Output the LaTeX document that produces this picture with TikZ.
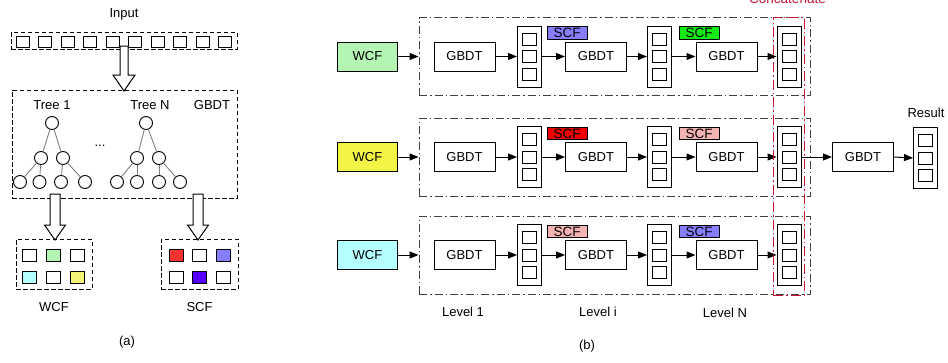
\documentclass[tikz,border=0pt]{standalone}
\usepackage{fontspec}
\setmainfont{Liberation Sans}
\usetikzlibrary{arrows.meta}
\definecolor{wgreen}{RGB}{180,245,180}
\definecolor{wyellow}{RGB}{242,245,70}
\definecolor{ayellow}{RGB}{242,245,120}
\definecolor{wcyan}{RGB}{180,255,255}
\definecolor{scfred}{RGB}{240,0,0}
\definecolor{ared}{RGB}{250,50,50}
\definecolor{scfpurple}{RGB}{135,125,255}
\definecolor{scfviolet}{RGB}{85,0,255}
\definecolor{scfgreen}{RGB}{20,235,20}
\definecolor{scfpink}{RGB}{245,180,180}
\definecolor{crim}{RGB}{200,20,50}
\tikzset{
  every node/.style={font=\fontsize{13}{15}\selectfont},
  lbl/.style={inner sep=0pt},
  dbox/.style={draw, dash pattern=on 4.5pt off 2.5pt, line width=1pt, inner sep=0pt},
  ddbox/.style={draw=black!75, dash pattern=on 8pt off 3pt on 1.5pt off 3pt, line width=1pt, inner sep=0pt, minimum width=391pt, minimum height=78pt},
  redbox/.style={draw=crim, dash pattern=on 10pt off 3pt on 1.5pt off 3pt, line width=1pt, inner sep=0pt, minimum width=31pt, minimum height=278pt},
  acell/.style={draw, line width=1pt, minimum width=13pt, minimum height=11pt, inner sep=0pt},
  bcell/.style={draw, line width=1pt, minimum width=14pt, minimum height=12pt, inner sep=0pt},
  gbdt/.style={draw, line width=1pt, minimum width=61pt, minimum height=29pt, inner sep=0pt, fill=white},
  vecbox/.style={draw, line width=1pt, minimum width=24pt, minimum height=61pt, inner sep=0pt},
  cell/.style={draw, line width=0.9pt, minimum width=14pt, minimum height=12pt, inner sep=0pt},
  scf/.style={draw, line width=0.8pt, minimum width=40pt, minimum height=12.5pt, inner sep=0pt, text depth=0pt, font=\fontsize{13.5}{13.5}\selectfont},
  wcf/.style={draw, line width=1pt, minimum width=60pt, minimum height=29pt, inner sep=0pt},
  arr/.style={-{Triangle[length=9pt,width=7pt]}, line width=1pt},
  tnode/.style={circle, draw, line width=0.9pt, minimum size=13pt, inner sep=0pt},
  tedge/.style={draw=gray, line width=0.9pt},
  hollow/.style={draw, line width=1pt, fill=white},
}
\begin{document}
\begin{tikzpicture}[x=1pt,y=-1pt]
\useasboundingbox (0,0) rectangle (948,362);
% ---------------- panel (a) ----------------
\node[lbl] (inlbl) at (124,14) {Input};
\node[dbox, minimum width=226pt, minimum height=17pt] (inbox) at (124,40.5) {};
\foreach \i in {0,...,9} \node[acell] (in\i) at (22.5+22.5*\i,41.5) {};
\node[dbox, minimum width=225pt, minimum height=108pt] (gbox) at (124.5,144) {};
\draw[hollow] (120,46) -- (120,75) -- (113,75) -- (124,91) -- (135,75) -- (128,75) -- (128,46) -- cycle;
\node[lbl] (t1lbl) at (52,105) {Tree 1};
\node[lbl] (tnlbl) at (150,105) {Tree N};
\node[lbl] (gblbl) at (212,105) {GBDT};
\node[lbl] (dots) at (100,146) {...};
% tree 1
\node[tnode] (t1r) at (52,123) {};
\node[tnode] (t1a) at (41,158) {};
\node[tnode] (t1b) at (63,158) {};
\node[tnode] (t1l1) at (20,182) {};
\node[tnode] (t1l2) at (39.5,182) {};
\node[tnode] (t1l3) at (61,182) {};
\node[tnode] (t1l4) at (85,182) {};
\draw[tedge] (t1r) -- (t1a); \draw[tedge] (t1r) -- (t1b);
\draw[tedge] (t1a) -- (t1l1); \draw[tedge] (t1a) -- (t1l2);
\draw[tedge] (t1b) -- (t1l3); \draw[tedge] (t1b) -- (t1l4);
% tree N
\node[tnode] (tnr) at (146,123) {};
\node[tnode] (tna) at (137,158) {};
\node[tnode] (tnb) at (159,158) {};
\node[tnode] (tnl1) at (117,182) {};
\node[tnode] (tnl2) at (137,182) {};
\node[tnode] (tnl3) at (159,182) {};
\node[tnode] (tnl4) at (180,182) {};
\draw[tedge] (tnr) -- (tna); \draw[tedge] (tnr) -- (tnb);
\draw[tedge] (tna) -- (tnl1); \draw[tedge] (tna) -- (tnl2);
\draw[tedge] (tnb) -- (tnl3); \draw[tedge] (tnb) -- (tnl4);
% down arrows
\draw[hollow] (50,194) -- (50,225) -- (44.5,225) -- (55,240) -- (65.5,225) -- (60,225) -- (60,194) -- cycle;
\draw[hollow] (193,194) -- (193,225) -- (187.5,225) -- (198,240) -- (208.5,225) -- (203,225) -- (203,194) -- cycle;
% WCF / SCF boxes
\node[dbox, minimum width=76pt, minimum height=50pt] (wbox) at (54,264) {};
\node[bcell] (w11) at (29,255) {};
\node[bcell, fill=wgreen] (w12) at (53,255) {};
\node[bcell] (w13) at (77,255) {};
\node[bcell, fill=wcyan] (w21) at (29,277) {};
\node[bcell] (w22) at (53,277) {};
\node[bcell, fill=ayellow] (w23) at (77,277) {};
\node[dbox, minimum width=77pt, minimum height=50pt] (sbox) at (199.5,264) {};
\node[bcell, fill=ared] (s11) at (176,255) {};
\node[bcell] (s12) at (199.5,255) {};
\node[bcell, fill=scfpurple] (s13) at (223,255) {};
\node[bcell] (s21) at (176,277) {};
\node[bcell, fill=scfviolet] (s22) at (199.5,277) {};
\node[bcell] (s23) at (223,277) {};
\node[lbl] (wlbl) at (54,307) {WCF};
\node[lbl] (slbl) at (199.5,307) {SCF};
\node[lbl] (alab) at (127,342) {(a)};
% ---------------- panel (b) ----------------
\foreach \r/\yy/\wc/\sa/\sb in {A/56.5/wgreen/scfpurple/scfgreen, B/157/wyellow/scfred/scfpink, C/255/wcyan/scfpink/scfpurple}{
  \node[ddbox] (bx\r) at (614.5,\yy) {};
  \node[wcf, fill=\wc] (w\r) at (367.5,\yy) {WCF};
  \node[gbdt] (g\r1) at (464.5,\yy) {GBDT};
  \node[gbdt] (g\r2) at (596,\yy) {GBDT};
  \node[gbdt] (g\r3) at (726.5,\yy) {GBDT};
  \foreach \vx/\vn in {529.5/1,659.5/2,789/3}{
    \node[vecbox] (v\r\vn) at (\vx,\yy) {};
    \foreach \k/\dy in {1/-17.5,2/0,3/17.5}
      \node[cell] (v\r\vn-\k) at (\vx,\yy+\dy) {};
  }
  \node[scf, fill=\sa] (s\r1) at (567,\yy-23.5) {SCF};
  \node[scf, fill=\sb] (s\r2) at (699,\yy-23.5) {SCF};
  \draw[arr] (w\r.east) -- (bx\r.west);
  \draw[arr] (g\r1.east) -- (v\r1.west);
  \draw[arr] (v\r1.east) -- (g\r2.west);
  \draw[arr] (g\r2.east) -- (v\r2.west);
  \draw[arr] (v\r2.east) -- (g\r3.west);
  \draw[arr] (g\r3.east) -- (v\r3.west);
}
\node[redbox] (cat) at (788.5,156) {};
\node[lbl, text=crim, anchor=base, font=\fontsize{13.5}{15}\selectfont] (catlbl) at (787.5,3) {Concatenate};
\node[gbdt] (gF) at (863,157) {GBDT};
\node[vecbox] (vR) at (925.5,158) {};
\foreach \k/\dy in {1/-17.5,2/0,3/17.5}
  \node[cell] (vR-\k) at (925.5,158+\dy) {};
\node[lbl] (reslbl) at (926,113) {Result};
\draw[arr] (vB3.east) -- (gF.west);
\draw[arr] (gF.east) -- (vR.west);
\node[lbl] (lv1) at (463,312) {Level 1};
\node[lbl] (lvi) at (598,312) {Level i};
\node[lbl] (lvN) at (725,313) {Level N};
\node[lbl] (blab) at (587,346) {(b)};
\end{tikzpicture}
\end{document}
